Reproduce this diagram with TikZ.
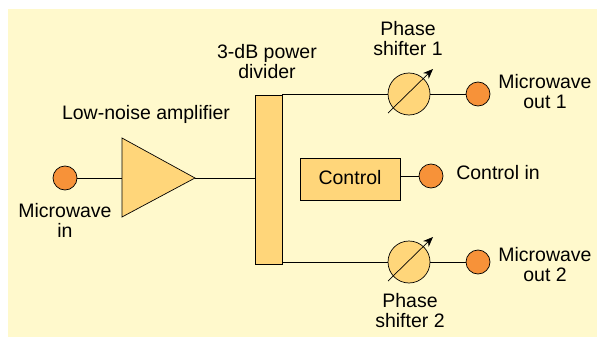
\documentclass[tikz,border=0pt]{standalone}
\usepackage{fontspec}
\setmainfont{Liberation Sans}
\usetikzlibrary{arrows.meta}
\definecolor{bgc}{HTML}{FFF9CC}
\definecolor{boxc}{HTML}{FFD67A}
\definecolor{portc}{HTML}{F79239}
\tikzset{
 lbl/.style={font=\fontsize{19.5}{20}\selectfont,align=center,inner sep=0pt,text=black},
 port/.style={circle,draw=black,line width=0.7pt,fill=portc,minimum size=24pt,inner sep=0pt},
 shifter/.style={circle,draw=black,line width=0.7pt,fill=boxc,minimum size=42pt,inner sep=0pt},
 block/.style={draw=black,line width=0.7pt,fill=boxc,inner sep=0pt},
 wire/.style={draw=black,line width=0.7pt}
}
\begin{document}
\begin{tikzpicture}[x=1pt,y=-1pt]
\useasboundingbox (0,0) rectangle (597,337);
\fill[bgc] (8,9) rectangle (597,337);
\node[port] (in) at (65,178) {};
\coordinate (tl) at (122,138);
\coordinate (bl) at (122,217);
\coordinate (tip) at (195,178);
\coordinate (tml) at (122,178);
\node[block,minimum width=27pt,minimum height=169pt] (div) at (268.5,179.5) {};
\node[block,minimum width=100pt,minimum height=42pt] (ctl) at (350,179) {};
\node[shifter] (ps1) at (409,94) {};
\node[shifter] (ps2) at (409,262) {};
\node[port] (o1) at (478,94) {};
\node[port] (o2) at (478,262) {};
\node[port] (ci) at (431,176) {};
\draw[block,line join=miter] (tl) -- (tip) -- (bl) -- cycle;
\draw[wire] (in) -- (tml);
\draw[wire] (tip) -- (tip-|div.west);
\draw[wire] (ps1-|div.east) -- (ps1);
\draw[wire] (ps2-|div.east) -- (ps2);
\draw[wire] (ps1) -- (o1);
\draw[wire] (ps2) -- (o2);
\draw[wire] (ci-|ctl.east) -- (ci);
\node[lbl] at (350,178) {Control};
\coordinate (a1s) at (388,113); \coordinate (a1e) at (433,69);
\coordinate (a2s) at (388,281); \coordinate (a2e) at (433,237);
\draw[wire,-{Stealth[length=10pt,width=8pt]}] (a1s) -- (a1e);
\draw[wire,-{Stealth[length=10pt,width=8pt]}] (a2s) -- (a2e);
\node[lbl] at (146,114) {Low-noise amplifier};
\node[lbl] at (65,220) {Microwave\\in};
\node[lbl] at (267,62) {3-dB power\\divider};
\node[lbl] at (408,39) {Phase\\shifter 1};
\node[lbl] at (410,311) {Phase\\shifter 2};
\node[lbl] at (545,92) {Microwave\\out 1};
\node[lbl] at (545,265) {Microwave\\out 2};
\node[lbl] at (498,173) {Control in};
\end{tikzpicture}
\end{document}
